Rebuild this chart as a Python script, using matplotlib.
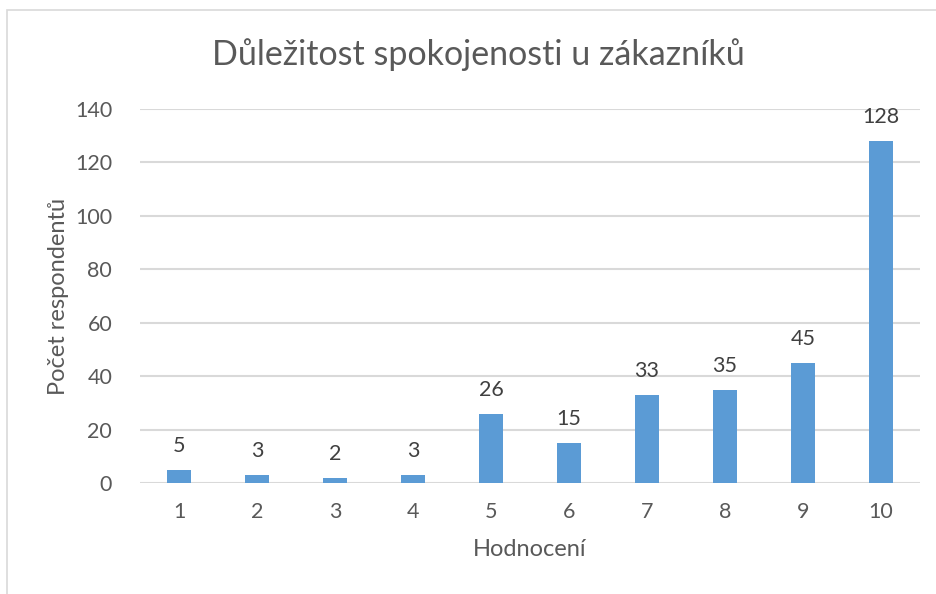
import matplotlib.pyplot as plt
from matplotlib.patches import Rectangle

categories = ['1', '2', '3', '4', '5', '6', '7', '8', '9', '10']
values = [5, 3, 2, 3, 26, 15, 33, 35, 45, 128]
yticks = [0, 20, 40, 60, 80, 100, 120, 140]

plt.rcParams['font.family'] = ['Lato', 'DejaVu Sans']
txt = '#595959'

fig = plt.figure(figsize=(9.36, 5.94), dpi=100)
ax = fig.add_axes([140 / 936, 1 - 483 / 594, 780 / 936, 374 / 594])

x = range(len(categories))
bars = ax.bar(x, values, width=0.31, color='#5B9BD5', zorder=3)
for xi, v in zip(x, values):
    ax.annotate(str(v), (xi, v), xytext=(0, 10), textcoords='offset points',
                ha='center', va='bottom', fontsize=15.5, color='#404040')

ax.set_xlim(-0.5, len(categories) - 0.5)
ax.set_ylim(0, 140)
ax.set_yticks(yticks)
ax.set_xticks(list(x))
ax.set_xticklabels(categories)
ax.grid(axis='y', color='#D9D9D9', linewidth=1.5, zorder=0)
for s in ax.spines.values():
    s.set_visible(False)
ax.tick_params(length=0, labelsize=15.5, labelcolor=txt)
ax.tick_params(axis='y', pad=20)
ax.tick_params(axis='x', pad=14)

ax.set_xlabel('Hodnocení', fontsize=17, color=txt, labelpad=12)
ax.set_ylabel('Počet respondentů', fontsize=17, color=txt, labelpad=4)
fig.text(478 / 936, 1 - 55 / 594, 'Důležitost spokojenosti u zákazníků',
         ha='center', va='center', fontsize=24.5, color=txt)

fig.patches.append(Rectangle((7 / 936, -0.1), 1.2, 1 - 10 / 594 + 0.1,
                             transform=fig.transFigure, fill=False,
                             edgecolor='#D9D9D9', linewidth=1.2))

fig.savefig('out.png', dpi=100, facecolor='white')
